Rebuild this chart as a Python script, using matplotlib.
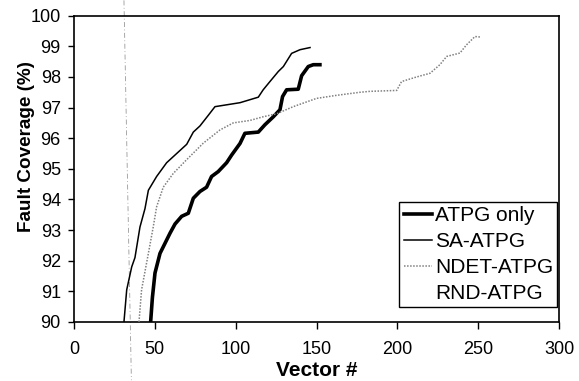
import matplotlib
matplotlib.use("Agg")
from matplotlib import pyplot as plt

plt.rcParams['font.family'] = ['Liberation Sans', 'DejaVu Sans']

# ATPG only (thick line)
atpg_x = [47.4, 48.5, 50.1, 53.2, 56.3, 59.4, 62.5, 66.6, 70.7, 73.8, 77.9, 82.0, 85.1,
          89.2, 94.4, 97.5, 102.7, 105.7, 114.0, 118.1, 123.3, 127.4, 129.0, 131.5,
          138.7, 140.8, 144.9, 148.0, 152.1]
atpg_y = [90.0, 90.8, 91.6, 92.24, 92.57, 92.9, 93.2, 93.45, 93.55, 94.04, 94.26, 94.4, 94.75,
          94.91, 95.2, 95.45, 95.83, 96.16, 96.2, 96.44, 96.7, 96.93, 97.36, 97.58,
          97.6, 98.04, 98.34, 98.4, 98.4]

# SA-ATPG (thin line)
sa_x = [30.9, 32.6, 35.7, 37.7, 40.8, 43.9, 46.0, 51.1, 57.3, 63.5, 69.7, 73.8, 77.9,
        83.1, 87.2, 102.7, 114.0, 117.0, 121.2, 126.4, 129.5, 134.6, 139.8, 146.0]
sa_y = [90.0, 91.05, 91.8, 92.1, 93.1, 93.7, 94.3, 94.75, 95.2, 95.5, 95.8, 96.2, 96.4,
        96.75, 97.03, 97.16, 97.34, 97.58, 97.85, 98.18, 98.34, 98.77, 98.89, 98.96]

# NDET-ATPG (dotted gray)
ndet_x = [40.2, 41.8, 46.0, 49.0, 51.1, 55.2, 61.4, 69.7, 80.0, 90.3, 98.5, 108.8, 117.0,
          125.4, 135.6, 150.0, 162.4, 176.9, 183.0, 199.6, 202.6, 211.9, 220.2, 226.3,
          230.5, 238.7, 242.8, 248.0, 252.0]
ndet_y = [90.0, 91.05, 92.24, 93.1, 93.76, 94.4, 94.85, 95.3, 95.84, 96.27, 96.5, 96.58, 96.7,
          96.8, 97.03, 97.3, 97.4, 97.5, 97.53, 97.56, 97.85, 98.0, 98.12, 98.4,
          98.67, 98.78, 99.05, 99.32, 99.3]

# RND-ATPG: no visible curve in the reference, legend entry only
rnd_x = []
rnd_y = []

# faint dash-dot scan mark crossing the figure
mark_x = [30.9, 35.5]
mark_y = [100.5, 88.1]

fig = plt.figure(figsize=(5.79, 3.81), dpi=100)
ax = fig.add_axes([0.1278, 0.1549, 0.8377, 0.8039])

ax.plot(mark_x, mark_y, color='#999999', lw=0.6, ls=(0, (6, 3, 1, 3)), clip_on=False, zorder=1)

ax.plot(atpg_x, atpg_y, color='black', lw=2.6, label='ATPG only', zorder=3)
ax.plot(sa_x, sa_y, color='black', lw=1.1, label='SA-ATPG', zorder=3)
ax.plot(ndet_x, ndet_y, color='#808080', lw=1.1, ls=(0, (1, 1)), label='NDET-ATPG', zorder=3)
ax.plot(rnd_x, rnd_y, color='none', lw=1, label='RND-ATPG')

ax.set_xlim(0, 300)
ax.set_ylim(90, 100)
ax.set_xticks([0, 50, 100, 150, 200, 250, 300])
ax.set_yticks(range(90, 101))
ax.tick_params(direction='out', width=1, labelsize=13)
ax.tick_params(axis='x', length=5, pad=9)
ax.tick_params(axis='y', length=4.5, pad=5)

for s in ax.spines.values():
    s.set_linewidth(1.2)

ax.set_xlabel('Vector #', fontsize=15, fontweight='bold', labelpad=2)
ax.set_ylabel('Fault Coverage (%)', fontsize=13.6, fontweight='bold')
ax.yaxis.set_label_coords(-0.080, 0.572)

leg = ax.legend(loc='lower right', bbox_to_anchor=(0.996, 0.049), fontsize=15,
                frameon=True, fancybox=False, edgecolor='black', framealpha=1,
                handlelength=1.35, handletextpad=0.15, borderpad=0.2, labelspacing=0.33,
                borderaxespad=0)
leg.get_frame().set_linewidth(1.0)

plt.savefig('out.png', dpi=100)
